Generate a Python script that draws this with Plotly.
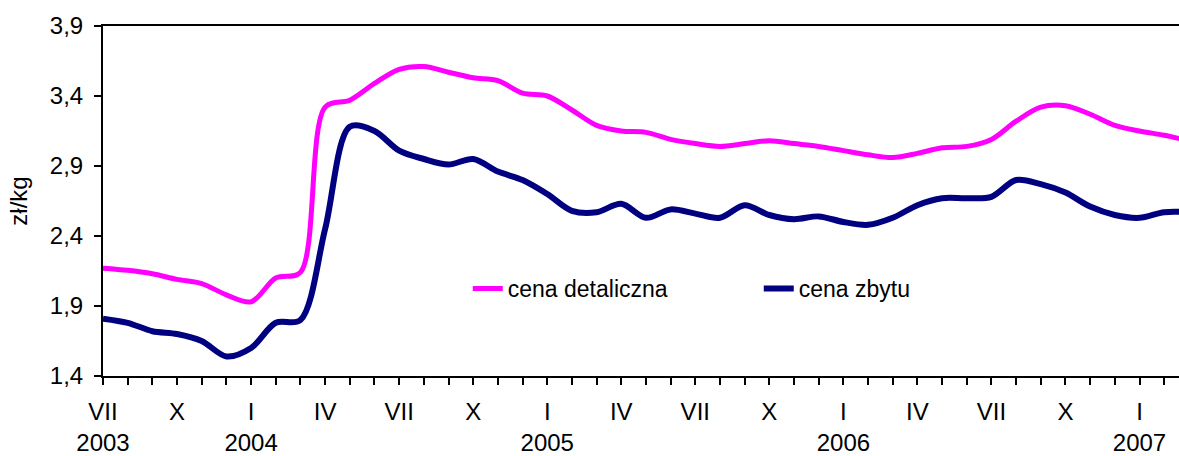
import plotly.graph_objects as go

# Monthly index: 0 = VII 2003 ... 44 = III 2007
months = list(range(45))

# cena detaliczna (retail price), zł/kg
retail = [2.17, 2.155, 2.13, 2.09, 2.06, 1.98, 1.93, 2.10, 2.14, 3.32,
          3.37, 3.49, 3.59, 3.61, 3.57, 3.53, 3.51, 3.42, 3.40, 3.30,
          3.19, 3.15, 3.14, 3.09, 3.06, 3.04, 3.06, 3.08, 3.06, 3.04,
          3.01, 2.98, 2.96, 2.99, 3.03, 3.04, 3.09, 3.22, 3.32, 3.33,
          3.27, 3.19, 3.15, 3.12, 3.08]

# cena zbytu (wholesale price), zł/kg
wholesale = [1.81, 1.78, 1.72, 1.70, 1.65, 1.54, 1.60, 1.78, 1.80, 2.45,
             3.18, 3.15, 3.01, 2.95, 2.91, 2.95, 2.86, 2.80, 2.70, 2.58,
             2.57, 2.63, 2.53, 2.59, 2.56, 2.53, 2.62, 2.55, 2.52, 2.54,
             2.50, 2.48, 2.53, 2.62, 2.67, 2.67, 2.68, 2.80, 2.77, 2.71,
             2.61, 2.55, 2.53, 2.57, 2.57]

roman = ["I", "II", "III", "IV", "V", "VI", "VII", "VIII", "IX", "X", "XI", "XII"]
first_month = 7   # July
first_year = 2003

tick_vals = []
tick_text = []
for m in months:
    mon = (first_month - 1 + m) % 12 + 1
    yr = first_year + (first_month - 1 + m) // 12
    tick_vals.append(m)
    if mon in (1, 4, 7, 10):
        lab = roman[mon - 1]
        if mon == 1 or m == 0:
            lab += "<br>" + str(yr)
        tick_text.append(lab)
    else:
        tick_text.append("")

y_ticks = [1.4, 1.9, 2.4, 2.9, 3.4, 3.9]
y_tick_text = [f"{v:.1f}".replace(".", ",") for v in y_ticks]

FONT = "Liberation Sans, Arial, sans-serif"

fig = go.Figure()
fig.add_trace(go.Scatter(
    x=months, y=retail, name="cena detaliczna", mode="lines",
    line=dict(color="#FF00FF", width=5, shape="spline", smoothing=0.9),
))
fig.add_trace(go.Scatter(
    x=months, y=wholesale, name="cena zbytu", mode="lines",
    line=dict(color="#000080", width=6, shape="spline", smoothing=0.9),
))

fig.update_layout(
    width=1179, height=456,
    margin=dict(l=103, r=0, t=26, b=80),
    paper_bgcolor="white", plot_bgcolor="white",
    font=dict(family=FONT, size=24, color="black"),
    showlegend=True,
    legend=dict(
        orientation="h", x=0.339, xanchor="left", y=0.25, yanchor="middle",
        font=dict(family=FONT, size=23, color="black"),
        bgcolor="rgba(0,0,0,0)", entrywidth=246, entrywidthmode="pixels",
    ),
    xaxis=dict(
        range=[0, 43.6], tickmode="array", tickvals=tick_vals, ticktext=tick_text,
        showline=True, linecolor="black", linewidth=2, mirror=True,
        ticks="outside", ticklen=7, tickwidth=1.5, tickcolor="black",
        showgrid=False, zeroline=False, tickangle=0, automargin=False,
        tickfont=dict(family=FONT, size=24, color="black"),
        ticklabelstandoff=6,
    ),
    yaxis=dict(
        range=[1.4, 3.9], tickmode="array", tickvals=y_ticks, ticktext=y_tick_text,
        showline=True, linecolor="black", linewidth=2,
        ticks="outside", ticklen=7, tickwidth=1.5, tickcolor="black",
        showgrid=False, zeroline=False, automargin=False,
        tickfont=dict(family=FONT, size=24, color="black"),
        ticklabelstandoff=6,
        title=dict(text="zł/kg", font=dict(family=FONT, size=24, color="black")),
    ),
)

# remove the browser's default page margin so the figure fills the window exactly
fig.write_html(
    "out.html",
    config={"displayModeBar": False},
    post_script="document.body.style.margin='0';document.body.style.overflow='hidden';",
)
